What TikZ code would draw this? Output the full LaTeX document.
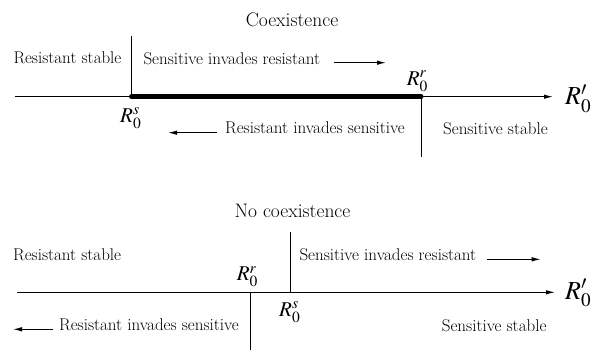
\documentclass[tikz,border=0pt]{standalone}
\usepackage{mathptmx}
\usetikzlibrary{arrows.meta}
\tikzstyle{region}=[inner sep=0pt, font=\fontsize{17}{20}\selectfont]
\tikzstyle{heading}=[inner sep=0pt, font=\fontsize{19.5}{23}\selectfont]
\tikzstyle{threshold}=[inner sep=0pt, font=\fontsize{21}{25}\selectfont]
\tikzstyle{axisname}=[inner sep=0pt, font=\fontsize{26}{30}\selectfont]
\tikzset{thin line/.style={line width=1pt}}
\tikzstyle{invasion}=[-{Latex[length=9pt,width=4.5pt]}, line width=1pt]

\begin{document}
\begin{tikzpicture}[x=1pt,y=-1pt]
  \useasboundingbox (0,0) rectangle (596,350);
  %% Coexistence
  \draw (292,27) node[heading,anchor=base] (T1) {Coexistence};
  \draw (13.3,64) node[region,anchor=base west] (RS1) {Resistant stable};
  \draw (143.3,64.5) node[region,anchor=base west] (SR1) {Sensitive invades resistant};
  \draw (225,133) node[region,anchor=base west] (RI1) {Resistant invades sensitive};
  \draw (443,134) node[region,anchor=base west] (SS1) {Sensitive stable};
  \draw (120,122) node[threshold,anchor=base west] (Rs1) {$R_0^{s}$};
  \draw (406.7,85) node[threshold,anchor=base west] (Rr1) {$R_0^{r}$};
  \draw (565,105) node[axisname,anchor=base west] (Rp1) {$R_0'$};

  \coordinate (A1) at (15,96.7);
  \coordinate (B1) at (553,96.7);
  \coordinate (S1) at (131.5,96.7);
  \coordinate (S1top) at (131.5,36);
  \coordinate (R1) at (421,96.7);
  \coordinate (R1bot) at (421,157);
  \coordinate (SRa) at (334,62.7);
  \coordinate (SRb) at (386,62.7);
  \coordinate (RIa) at (216.7,132.7);
  \coordinate (RIb) at (168,132.7);

  \draw[invasion] (A1) -- (B1);
  \draw[line width=5pt, line cap=round] (S1) -- (R1);
  \draw[thin line] (S1top) -- (S1);
  \draw[thin line] (R1) -- (R1bot);
  \draw[invasion] (SRa) -- (SRb);
  \draw[invasion] (RIa) -- (RIb);

  %% No coexistence
  \draw (292.5,217) node[heading,anchor=base] (T2) {No coexistence};
  \draw (13,260) node[region,anchor=base west] (RS2) {Resistant stable};
  \draw (299.3,260.5) node[region,anchor=base west] (SR2) {Sensitive invades resistant};
  \draw (59,330) node[region,anchor=base west] (RI2) {Resistant invades sensitive};
  \draw (441.7,331.5) node[region,anchor=base west] (SS2) {Sensitive stable};
  \draw (236.7,280.7) node[threshold,anchor=base west] (Rr2) {$R_0^{r}$};
  \draw (279,316) node[threshold,anchor=base west] (Rs2) {$R_0^{s}$};
  \draw (565,299) node[axisname,anchor=base west] (Rp2) {$R_0'$};

  \coordinate (A2) at (17,292.3);
  \coordinate (B2) at (555,292.3);
  \coordinate (S2) at (290,292.3);
  \coordinate (S2top) at (290,232);
  \coordinate (R2) at (250.7,292.3);
  \coordinate (R2bot) at (250.7,350);
  \coordinate (SRc) at (487.3,259.3);
  \coordinate (SRd) at (540.7,259.3);
  \coordinate (RIc) at (53,329.3);
  \coordinate (RId) at (13,329.3);

  \draw[invasion] (A2) -- (B2);
  \draw[thin line] (S2top) -- (S2);
  \draw[thin line] (R2) -- (R2bot);
  \draw[invasion] (SRc) -- (SRd);
  \draw[invasion] (RIc) -- (RId);
\end{tikzpicture}
\end{document}
